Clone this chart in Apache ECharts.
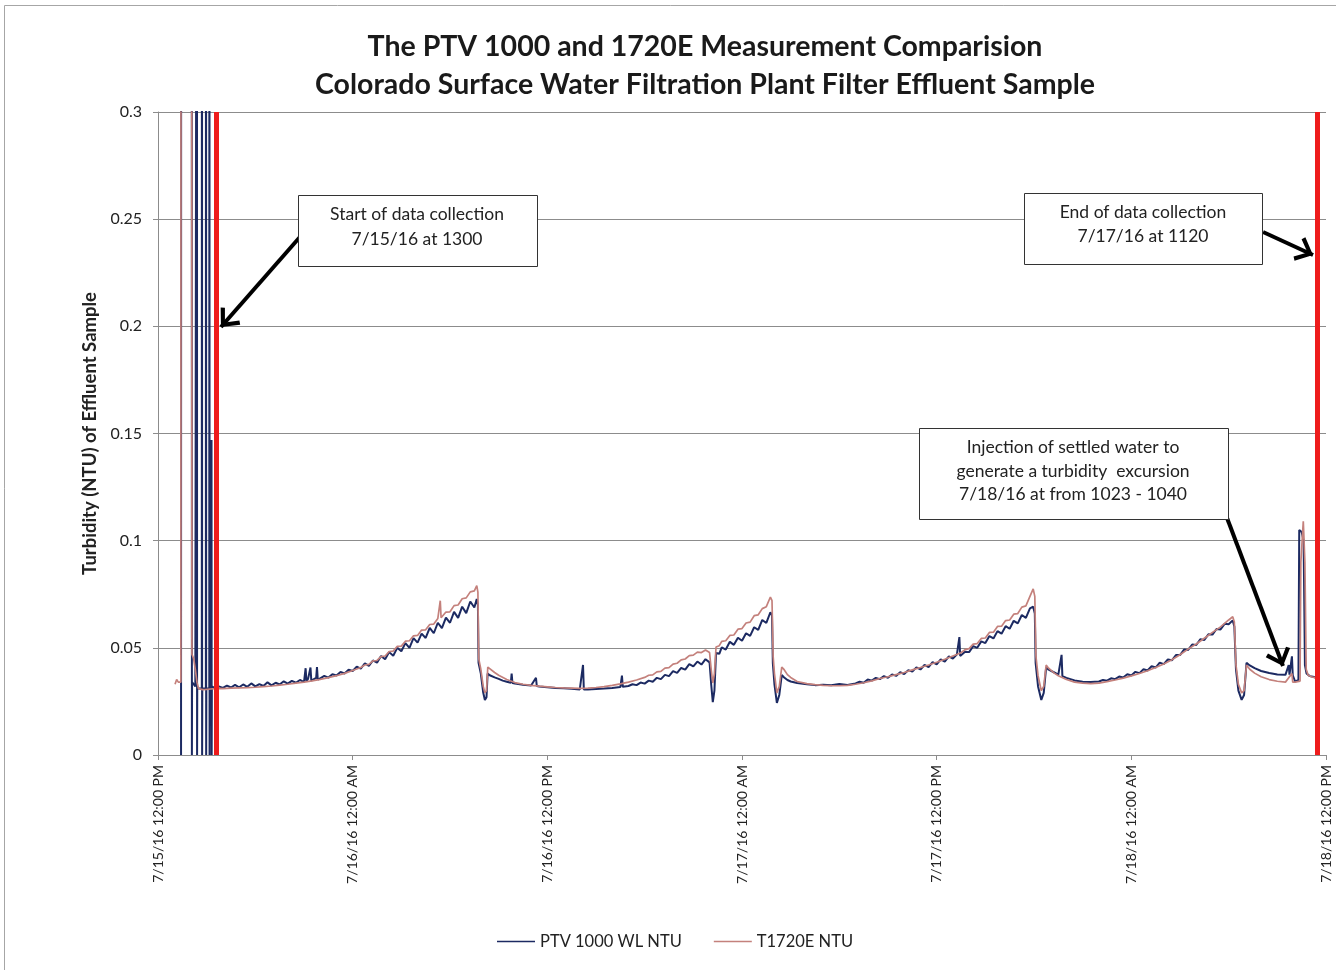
<!DOCTYPE html>
<html>
<head>
<meta charset="utf-8">
<script src="https://cdn.jsdelivr.net/npm/echarts@6.0.0/dist/echarts.min.js"></script>
<style>
html,body{margin:0;padding:0;background:#fff;}
#chart{width:1336px;height:970px;}
</style>
</head>
<body>
<div id="chart"></div>
<script>
// X tick labels (every 12 hours, starting 7/15/16 12:00 PM)
const xTickLabels = ["7/15/16 12:00 PM","7/16/16 12:00 AM","7/16/16 12:00 PM","7/17/16 12:00 AM","7/17/16 12:00 PM","7/18/16 12:00 AM","7/18/16 12:00 PM"];
const seriesNames = ["PTV 1000 WL NTU","T1720E NTU"];
// Red markers: start / end of data collection (hours after 7/15/16 12:00 PM)
const collectionMarkers = [3.62, 71.48];

// PTV 1000 WL NTU : [hours after 7/15/16 12:00 PM, NTU]
const ptvNTU = [
[1.42,0],[1.43,0.6],[2.08,0.6],[2.09,0],[2.10,0.034],[2.2,0.033],[2.3,0.032],
[2.39,0.032],[2.40,0.6],[2.41,0],[2.42,0.031],
[2.70,0.031],[2.71,0.6],[2.72,0],[2.73,0.031],
[2.95,0.031],[2.96,0.6],[2.97,0],[2.98,0.031],
[3.16,0.031],[3.17,0.6],[3.18,0],[3.19,0.031],
[3.29,0.031],[3.30,0.147],[3.31,0],[3.32,0.032],
[3.5,0.0312],[3.75,0.0320],[4.0,0.0313],[4.25,0.0324],[4.5,0.0315],[4.75,0.0327],[5.0,0.0316],[5.25,0.0329],
[5.5,0.0318],[5.75,0.0334],[6.0,0.0320],[6.25,0.0331],[6.5,0.0322],[6.75,0.0339],[7.0,0.0325],[7.25,0.0337],
[7.5,0.0329],[7.75,0.0344],[8.0,0.0333],[8.25,0.0346],[8.5,0.0337],[8.75,0.0350],[9.0,0.0340],[9.1,0.0405],
[9.15,0.0345],[9.25,0.0355],[9.4,0.0408],[9.45,0.0347],[9.5,0.0348],[9.75,0.0360],[9.8,0.0410],[9.85,0.0351],
[10.0,0.0358],[10.25,0.0369],[10.5,0.0361],[10.75,0.0377],[11.0,0.0371],[11.25,0.0387],[11.5,0.0380],[11.75,0.0398],
[12.0,0.0392],[12.25,0.0412],[12.5,0.0403],[12.75,0.0428],[13.0,0.0416],[13.25,0.0441],[13.5,0.0431],[13.75,0.0462],
[14.0,0.0447],[14.25,0.0480],[14.5,0.0463],[14.75,0.0500],[15.0,0.0484],[15.25,0.0522],[15.5,0.0500],[15.75,0.0545],
[16.0,0.0524],[16.25,0.0566],[16.5,0.0546],[16.75,0.0593],[17.0,0.0568],[17.25,0.0617],[17.5,0.0592],[17.75,0.0641],
[18.0,0.0617],[18.25,0.0668],[18.5,0.0640],[18.75,0.0692],[19.0,0.0662],[19.25,0.0716],[19.5,0.0688],[19.65,0.0728],
[19.72,0.0700],[19.76,0.0430],[19.9,0.0380],[20.05,0.0290],[20.15,0.0257],[20.25,0.0270],[20.32,0.0380],[20.45,0.0372],
[20.75,0.0362],[21.0,0.0355],[21.25,0.0347],[21.5,0.0342],[21.75,0.0337],[21.8,0.0380],[21.85,0.0336],[22.0,0.0333],
[22.5,0.0328],[23.0,0.0324],[23.3,0.0360],[23.35,0.0322],[23.5,0.0320],[24.0,0.0316],[24.5,0.0313],[25.0,0.0311],
[25.5,0.0309],[26.0,0.0306],[26.2,0.0420],[26.25,0.0306],[26.5,0.0306],[27.0,0.0308],[27.5,0.0310],[28.0,0.0313],
[28.5,0.0317],[28.6,0.0370],[28.65,0.0318],[29.0,0.0322],[29.25,0.0330],[29.5,0.0326],[29.75,0.0338],[30.0,0.0333],
[30.25,0.0347],[30.5,0.0342],[30.75,0.0360],[31.0,0.0354],[31.25,0.0374],[31.5,0.0368],[31.75,0.0391],[32.0,0.0383],
[32.25,0.0406],[32.5,0.0398],[32.75,0.0424],[33.0,0.0413],[33.25,0.0436],[33.5,0.0422],[33.75,0.0447],[34.0,0.0432],
[34.1,0.0330],[34.2,0.0247],[34.3,0.0300],[34.4,0.0476],[34.6,0.0472],[34.75,0.0502],[35.0,0.0492],[35.25,0.0528],
[35.5,0.0514],[35.75,0.0547],[36.0,0.0533],[36.25,0.0568],[36.5,0.0556],[36.75,0.0596],[37.0,0.0584],[37.25,0.0630],
[37.5,0.0616],[37.75,0.0666],[37.85,0.0650],[37.9,0.0430],[38.0,0.0330],[38.15,0.0243],[38.3,0.0280],[38.45,0.0373],
[38.6,0.0362],[38.8,0.0350],[39.0,0.0343],[39.4,0.0336],[40.0,0.0330],[40.5,0.0326],[41.0,0.0328],[41.5,0.0325],
[42.0,0.0331],[42.5,0.0327],[43.0,0.0334],[43.25,0.0342],[43.5,0.0337],[43.75,0.0352],[44.0,0.0347],[44.25,0.0360],
[44.5,0.0354],[44.75,0.0368],[45.0,0.0360],[45.25,0.0376],[45.5,0.0369],[45.75,0.0386],[46.0,0.0378],[46.25,0.0396],
[46.5,0.0389],[46.75,0.0409],[47.0,0.0399],[47.25,0.0420],[47.5,0.0410],[47.75,0.0433],[48.0,0.0423],[48.25,0.0446],
[48.5,0.0436],[48.75,0.0460],[49.0,0.0450],[49.25,0.0470],[49.4,0.0550],[49.45,0.0462],[49.75,0.0482],[50.0,0.0480],
[50.25,0.0508],[50.5,0.0500],[50.75,0.0530],[51.0,0.0522],[51.25,0.0555],[51.5,0.0544],[51.75,0.0578],[52.0,0.0566],
[52.25,0.0601],[52.5,0.0589],[52.75,0.0626],[53.0,0.0614],[53.25,0.0653],[53.5,0.0640],[53.75,0.0684],[53.95,0.0692],
[54.05,0.0660],[54.1,0.0430],[54.25,0.0320],[54.45,0.0257],[54.6,0.0290],[54.75,0.0410],[54.9,0.0398],
[55.25,0.0385],[55.5,0.0375],[55.7,0.0467],[55.75,0.0368],[56.0,0.0360],[56.5,0.0348],[57.0,0.0342],[57.5,0.0341],
[58.0,0.0343],[58.25,0.0350],[58.5,0.0347],[58.75,0.0358],[59.0,0.0354],[59.25,0.0366],[59.5,0.0362],[59.75,0.0377],
[60.0,0.0371],[60.25,0.0388],[60.5,0.0382],[60.75,0.0400],[61.0,0.0394],[61.25,0.0414],[61.5,0.0408],[61.75,0.0431],
[62.0,0.0424],[62.25,0.0446],[62.5,0.0442],[62.75,0.0466],[63.0,0.0466],[63.25,0.0492],[63.5,0.0490],[63.75,0.0515],
[64.0,0.0513],[64.25,0.0540],[64.5,0.0537],[64.75,0.0563],[65.0,0.0562],[65.25,0.0588],[65.5,0.0586],[65.75,0.0612],
[66.0,0.0610],[66.25,0.0628],[66.35,0.0600],[66.45,0.0400],[66.6,0.0300],[66.8,0.0257],[66.95,0.0280],[67.1,0.0430],
[67.3,0.0418],[67.6,0.0405],[68.0,0.0392],[68.5,0.0383],[69.0,0.0376],[69.5,0.0374],[69.7,0.0420],[69.75,0.0375],
[69.9,0.0460],[69.95,0.0372],[70.1,0.0342],[70.3,0.0350],[70.35,0.1050],[70.5,0.1040],[70.62,0.1000],[70.7,0.0420],
[70.8,0.0380],[71.0,0.0368],[71.2,0.0365],[71.35,0.0362]
];

// T1720E NTU : [hours after 7/15/16 12:00 PM, NTU]
const t1720eNTU = [
[1.05,0.0330],[1.15,0.0352],[1.25,0.0340],[1.35,0.0345],[1.41,0.0340],[1.42,0.6],[2.07,0.6],[2.09,0.047],
[2.2,0.045],[2.3,0.040],[2.4,0.034],[2.5,0.031],[2.75,0.0305],[3.0,0.0306],[3.25,0.0308],[3.5,0.0310],
[3.75,0.0311],[4.0,0.0310],[4.5,0.0312],[5.0,0.0313],[5.5,0.0314],[6.0,0.0316],[6.5,0.0319],[7.0,0.0322],
[7.5,0.0326],[8.0,0.0330],[8.5,0.0335],[9.0,0.0340],[9.5,0.0346],[10.0,0.0353],[10.5,0.0361],[11.0,0.0370],
[11.5,0.0381],[12.0,0.0394],[12.5,0.0408],[12.75,0.0420],[13.0,0.0423],[13.25,0.0439],[13.5,0.0441],[13.75,0.0459],
[14.0,0.0462],[14.25,0.0483],[14.5,0.0485],[14.75,0.0507],[15.0,0.0508],[15.25,0.0531],[15.5,0.0533],[15.75,0.0556],
[16.0,0.0558],[16.25,0.0583],[16.5,0.0584],[16.75,0.0609],[17.0,0.0611],[17.25,0.0637],[17.4,0.0720],[17.45,0.0640],
[17.5,0.0640],[17.75,0.0667],[18.0,0.0668],[18.25,0.0697],[18.5,0.0700],[18.75,0.0729],[19.0,0.0733],[19.25,0.0761],
[19.5,0.0766],[19.65,0.0790],[19.72,0.0760],[19.77,0.0450],[19.9,0.0400],[20.05,0.0320],[20.15,0.0290],[20.25,0.0300],
[20.33,0.0410],[20.45,0.0402],[20.75,0.0385],[21.0,0.0372],[21.5,0.0352],[22.0,0.0338],[22.5,0.0330],[23.0,0.0325],
[23.5,0.0321],[24.0,0.0318],[24.5,0.0315],[25.0,0.0313],[25.5,0.0312],[26.0,0.0311],[26.5,0.0312],[27.0,0.0315],
[27.5,0.0319],[28.0,0.0325],[28.5,0.0332],[29.0,0.0340],[29.5,0.0350],[30.0,0.0362],[30.25,0.0372],[30.5,0.0374],
[30.75,0.0388],[31.0,0.0390],[31.25,0.0405],[31.5,0.0408],[31.75,0.0424],[32.0,0.0428],[32.25,0.0444],[32.5,0.0448],
[32.75,0.0464],[33.0,0.0466],[33.25,0.0480],[33.5,0.0478],[33.75,0.0490],[34.0,0.0478],[34.1,0.0400],[34.2,0.0336],
[34.3,0.0380],[34.4,0.0504],[34.6,0.0510],[34.75,0.0530],[35.0,0.0533],[35.25,0.0558],[35.5,0.0560],[35.75,0.0587],
[36.0,0.0590],[36.25,0.0616],[36.5,0.0620],[36.75,0.0650],[37.0,0.0654],[37.25,0.0683],[37.5,0.0692],[37.75,0.0737],
[37.85,0.0720],[37.92,0.0460],[38.0,0.0380],[38.15,0.0290],[38.3,0.0320],[38.45,0.0410],[38.6,0.0398],[38.8,0.0375],
[39.0,0.0362],[39.4,0.0343],[40.0,0.0333],[40.5,0.0328],[41.0,0.0325],[41.5,0.0323],[42.0,0.0323],[42.5,0.0325],
[43.0,0.0330],[43.5,0.0337],[44.0,0.0346],[44.5,0.0357],[45.0,0.0365],[45.5,0.0375],[46.0,0.0385],[46.5,0.0397],
[47.0,0.0408],[47.5,0.0420],[48.0,0.0433],[48.5,0.0447],[49.0,0.0462],[49.5,0.0477],[49.75,0.0492],[50.0,0.0496],
[50.25,0.0517],[50.5,0.0520],[50.75,0.0544],[51.0,0.0546],[51.25,0.0572],[51.5,0.0573],[51.75,0.0600],[52.0,0.0601],
[52.25,0.0627],[52.5,0.0630],[52.75,0.0657],[53.0,0.0660],[53.25,0.0690],[53.5,0.0696],[53.75,0.0740],[53.95,0.0775],
[54.05,0.0740],[54.12,0.0460],[54.25,0.0370],[54.45,0.0300],[54.6,0.0320],[54.75,0.0420],[54.9,0.0405],[55.25,0.0382],
[55.5,0.0370],[56.0,0.0352],[56.5,0.0340],[57.0,0.0335],[57.5,0.0333],[58.0,0.0335],[58.5,0.0342],[59.0,0.0350],
[59.5,0.0359],[60.0,0.0369],[60.5,0.0380],[61.0,0.0393],[61.5,0.0408],[62.0,0.0425],[62.5,0.0444],[63.0,0.0468],
[63.5,0.0494],[64.0,0.0518],[64.5,0.0545],[65.0,0.0572],[65.5,0.0598],[66.0,0.0630],[66.25,0.0645],[66.35,0.0620],
[66.45,0.0420],[66.6,0.0330],[66.8,0.0290],[66.95,0.0300],[67.1,0.0420],[67.3,0.0400],[67.6,0.0382],[68.0,0.0365],
[68.5,0.0352],[69.0,0.0344],[69.5,0.0340],[69.9,0.0380],[69.95,0.0340],[70.1,0.0340],[70.4,0.0345],[70.45,0.0900],
[70.6,0.1090],[70.7,0.0900],[70.78,0.0400],[70.9,0.0372],[71.1,0.0365],[71.35,0.0360]
];

const FONT = 'Lato, "Open Sans", sans-serif';
const TEXT_COLOR = '#222';
const chevron = 'path://M0,-13 L0.01,-13 L0,-12.99 Z M0,0 L10,11 L7.4,13 L0,4.6 L-7.4,13 L-10,11 Z';

const chart = echarts.init(document.getElementById('chart'), null, {renderer: 'canvas'});

function arrow(from, to) {
  return [
    {coord: from, symbol: 'none', lineStyle: {color: '#000', width: 4, type: 'solid'}},
    {coord: to, symbol: chevron, symbolSize: [26, 34]}
  ];
}

const option = {
  animation: false,
  backgroundColor: '#fff',
  textStyle: {fontFamily: FONT},
  title: {
    text: 'The PTV 1000 and 1720E Measurement Comparision\nColorado Surface Water Filtration Plant Filter Effluent Sample',
    left: 700, top: 23, textAlign: 'center',
    textStyle: {fontFamily: FONT, fontSize: 28.5, fontWeight: 'bold', color: '#1a1a1a', lineHeight: 38}
  },
  legend: {
    data: seriesNames,
    left: 497, top: 933,
    icon: 'rect', itemWidth: 38, itemHeight: 1.5, itemGap: 32,
    padding: 0,
    textStyle: {fontFamily: FONT, fontSize: 16.5, color: TEXT_COLOR}
  },
  grid: {left: 158, right: 10, top: 112, bottom: 215, containLabel: false},
  xAxis: {
    type: 'value', min: 0, max: 72, interval: 12,
    axisLine: {show: true, onZero: false, lineStyle: {color: '#8c8c8c', width: 1}},
    axisTick: {show: true, length: 5, lineStyle: {color: '#8c8c8c'}},
    splitLine: {show: false},
    axisLabel: {
      rotate: 90, margin: 10, fontSize: 14, color: TEXT_COLOR, fontFamily: FONT,
      formatter: v => xTickLabels[Math.round(v / 12)]
    }
  },
  yAxis: {
    type: 'value', min: 0, max: 0.3, interval: 0.05,
    name: 'Turbidity (NTU) of Effluent Sample',
    nameLocation: 'middle', nameRotate: 90, nameGap: 58,
    nameTextStyle: {fontFamily: FONT, fontSize: 18.5, fontWeight: 'bold', color: TEXT_COLOR},
    axisLine: {show: true, lineStyle: {color: '#8c8c8c', width: 1}},
    axisTick: {show: true, length: 5, lineStyle: {color: '#8c8c8c'}},
    splitLine: {show: true, lineStyle: {color: '#8c8c8c', width: 1}},
    axisLabel: {margin: 16, fontSize: 16, color: TEXT_COLOR, fontFamily: FONT}
  },
  series: [
    {
      name: seriesNames[0], type: 'line', data: ptvNTU,
      showSymbol: false, symbol: 'none', clip: true,
      color: '#1c2a62',
      lineStyle: {color: '#1c2a62', width: 2},
      markLine: {
        silent: true, animation: false,
        label: {show: false},
        data: [
          arrow([8.75, 0.2417], [3.88, 0.1997]),
          arrow([68.12, 0.2440], [71.20, 0.2333]),
          arrow([65.90, 0.1106], [69.35, 0.0415])
        ]
      },
      z: 2
    },
    {
      name: seriesNames[1], type: 'line', data: t1720eNTU,
      showSymbol: false, symbol: 'none', clip: true,
      color: '#c4817c',
      lineStyle: {color: '#c4817c', width: 1.7},
      markLine: {
        silent: true, animation: false, symbol: 'none',
        label: {show: false},
        lineStyle: {color: '#ee1c1c', width: 5, type: 'solid'},
        data: collectionMarkers.map(h => ({xAxis: h}))
      },
      z: 3
    }
  ],
  graphic: [
    {type: 'rect', z: -10, silent: true, shape: {x: 4.5, y: 5.5, width: 1400, height: 1000},
     style: {fill: 'none', stroke: '#a6a6a6', lineWidth: 1}},
    {type: 'rect', z: 50, silent: true, shape: {x: 298.5, y: 195.5, width: 239, height: 71},
     style: {fill: '#fff', stroke: '#333', lineWidth: 1}},
    {type: 'text', z: 51, silent: true, x: 417, y: 227,
     style: {text: 'Start of data collection\n7/15/16 at 1300', font: '17.5px ' + FONT, fill: TEXT_COLOR,
             align: 'center', verticalAlign: 'middle', lineHeight: 25}},
    {type: 'rect', z: 50, silent: true, shape: {x: 1024.5, y: 193.5, width: 238, height: 71},
     style: {fill: '#fff', stroke: '#333', lineWidth: 1}},
    {type: 'text', z: 51, silent: true, x: 1143, y: 224,
     style: {text: 'End of data collection\n7/17/16 at 1120', font: '17.5px ' + FONT, fill: TEXT_COLOR,
             align: 'center', verticalAlign: 'middle', lineHeight: 24}},
    {type: 'rect', z: 50, silent: true, shape: {x: 919.5, y: 428.5, width: 309, height: 91},
     style: {fill: '#fff', stroke: '#333', lineWidth: 1}},
    {type: 'text', z: 51, silent: true, x: 1073, y: 471,
     style: {text: 'Injection of settled water to\ngenerate a turbidity  excursion\n7/18/16 at from 1023 - 1040', font: '17.5px ' + FONT, fill: TEXT_COLOR,
             align: 'center', verticalAlign: 'middle', lineHeight: 23.5}}
  ]
};
chart.setOption(option);
</script>
</body>
</html>
